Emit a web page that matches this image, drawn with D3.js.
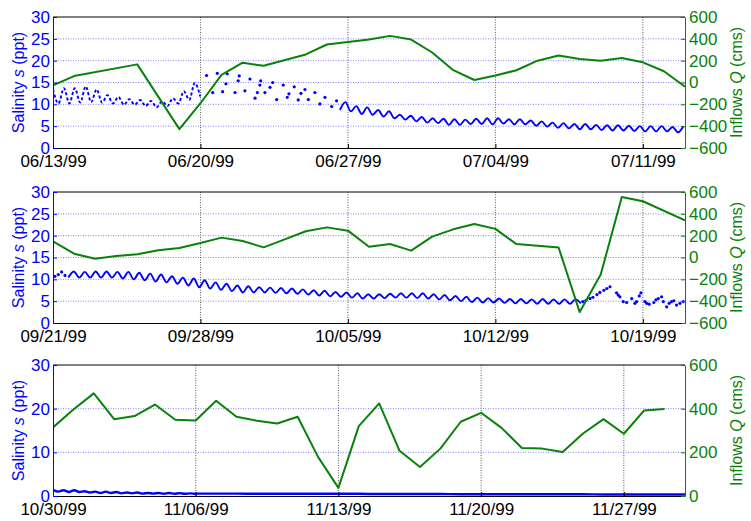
<!DOCTYPE html>
<html>
<head>
<meta charset="utf-8">
<script src="https://cdn.jsdelivr.net/npm/d3@7"></script>
<style>
  body { margin: 0; background: #fff; }
  svg text { font-family: "Liberation Sans", Arial, Helvetica, sans-serif; }
</style>
</head>
<body>
<svg id="chart" width="751" height="521"></svg>
<script>
// ---- data ----
const panelStart = ["06/13/99", "09/21/99", "10/30/99"];
const panelSpan = [30, 30, 31];   // days shown per panel
const tideStep = 0.2588;          // days between read highs/lows (half tidal cycle)

const salTicks12 = [0, 5, 10, 15, 20, 25, 30];
const salTicks3 = [0, 10, 20, 30];
const qTicks12 = [-600, -400, -200, 0, 200, 400, 600];
const qTicks3 = [0, 200, 400, 600];

// inflows Q (cms), day offset from panel start
const inflowDay1 = [0, 1, 4, 6, 7, 8, 9, 10, 12, 13, 14, 15, 16, 17, 18, 19, 20, 21, 22, 23, 24, 25, 26, 27, 28, 29, 30];
const inflowQ1 = [-26, 59, 166, -427, -190, 70, 181, 153, 257, 348, 372, 393, 427, 393, 275, 113, 23, 64, 112, 200, 248, 215, 200, 224, 185, 103, -39];
const inflowDay2 = [0, 1, 2, 3, 4, 5, 6, 7, 8, 9, 10, 11, 12, 13, 14, 15, 16, 17, 18, 19, 20, 21, 22, 24, 25, 26, 27, 28, 30];
const inflowQ2 = [148, 35, -11, 14, 29, 66, 87, 133, 182, 151, 93, 166, 240, 276, 246, 99, 124, 63, 191, 258, 307, 262, 123, 92, -500, -156, 555, 515, 340];
const inflowDay3 = [0, 1, 2, 3, 4, 5, 6, 7, 8, 9, 10, 11, 12, 13, 14, 15, 16, 17, 18, 19, 20, 21, 22, 23, 24, 25, 26, 27, 28, 29, 30];
const inflowQ3 = [314, 396, 470, 352, 366, 419, 349, 346, 436, 363, 345, 332, 363, 179, 37, 320, 424, 207, 133, 217, 340, 381, 312, 220, 217, 202, 286, 352, 285, 392, 398];

// salinity s (ppt): tidal highs/lows every tideStep days from a start day
const salEarlyStart1 = 0;
const salEarly1 = [13.4, 10.2, 13.7, 10.2, 13.7, 10.4, 14.1, 10.5, 13.4, 10.4, 12.1, 10.2, 11.7, 9.9, 11.2, 9.9,
  11.0, 9.6, 10.8, 9.3, 10.7, 9.6, 11.4, 10.2, 13.0, 11.0, 14.9, 11.8];
const salMainStart1 = 13.62;
const salMain1 = [8.7, 10.5, 8.4, 9.6, 7.8, 9.3, 7.6, 8.7, 7.2, 8.4, 6.8, 7.6, 6.5, 7.4, 6.1, 7.1, 5.8, 6.8, 5.7, 6.7,
  5.3, 6.6, 5.3, 6.5, 5.5, 6.7, 5.5, 6.8, 5.4, 6.8, 5.6, 6.6, 5.4, 6.6, 5.4, 6.3, 5.1, 6.1, 4.9, 5.8, 4.6, 5.7,
  4.5, 5.5, 4.3, 5.5, 4.3, 5.3, 4.1, 5.2, 4.0, 5.2, 4.0, 5.1, 3.9, 5.0, 3.8, 5.0, 3.8, 5.0, 3.8, 4.8, 3.6, 5.0];
// sparse salinity samples (day, value)
const salDotDay1 = [7.29, 7.58, 7.80, 8.05, 8.27, 8.21, 8.64, 8.84, 8.79, 9.11, 9.35, 9.59, 9.70, 9.86, 9.82, 10.06,
  10.30, 10.43, 10.62, 10.93, 11.12, 11.20, 11.45, 11.64, 11.77, 11.96, 12.12, 12.43, 12.67, 12.91, 13.23, 13.46];
const salDotVal1 = [16.6, 12.7, 17.1, 12.9, 17.0, 14.7, 12.7, 16.5, 15.4, 13.1, 15.8, 11.4, 12.7, 15.4, 14.4, 12.7,
  13.9, 15.0, 11.1, 14.4, 11.6, 12.4, 14.0, 11.0, 12.5, 13.4, 11.1, 12.7, 10.1, 11.6, 9.5, 10.8];

const salMainStart2 = 0.73;
const salMain2 = [10.4,
  11.8, 10.4, 11.7, 10.4, 11.8, 10.4, 11.8, 10.4, 11.7, 10.2, 11.7, 10.0, 11.5, 9.8, 11.3, 9.5, 11.1, 9.3,
  10.7, 9.0, 10.4, 8.6, 10.2, 8.2, 9.8, 7.9, 9.3, 7.6, 9.0, 7.3, 8.6, 7.0, 8.4, 7.0, 8.2, 7.0,
  8.1, 6.9, 8.0, 6.8, 7.9, 6.7, 7.7, 6.5, 7.5, 6.3, 7.4, 6.1, 7.1, 6.0, 7.0, 5.8, 6.8, 5.6, 6.6, 5.6,
  6.6, 5.7, 6.7, 5.8, 6.8, 5.8, 6.8, 5.7, 6.8, 5.6, 6.6, 5.4, 6.4, 5.2, 6.2, 5.0, 6.0, 4.8, 5.8, 4.7,
  5.7, 4.7, 5.6, 4.6, 5.5, 4.5, 5.5, 4.5, 5.4, 4.4, 5.5, 4.4, 5.4, 4.4, 5.4, 4.4, 5.4, 4.5];
const salDotDay2 = [0.09, 0.25, 0.41, 0.57,
  25.15, 25.30, 25.49, 25.63, 25.82, 25.96, 26.15, 26.29, 26.44,
  26.75, 26.83, 26.91, 27.07, 27.23, 27.47, 27.62, 27.70, 27.83, 27.91, 28.10, 28.18, 28.30, 28.52, 28.62,
  28.73, 28.89, 28.97, 29.13, 29.25, 29.36, 29.47, 29.60, 29.76, 29.92];
const salDotVal2 = [10.7, 11.1, 11.7, 10.9,
  4.9, 5.2, 5.6, 5.9, 6.5, 7.0, 7.5, 7.9, 8.3,
  6.9, 6.4, 6.0, 4.9, 4.7, 5.6, 4.5, 4.9, 6.2, 6.9, 4.9, 4.5, 4.3, 4.7, 5.3,
  5.6, 6.0, 4.9, 3.7, 4.5, 4.9, 5.1, 4.1, 4.5, 4.9];

const salMainStart3 = 0;
const salMain3 = [1.4, 1.0, 1.3, 0.9, 1.3, 0.9, 1.1, 0.8, 1.0, 0.7, 1.0, 0.7, 0.9, 0.6, 0.8, 0.6,
  0.8, 0.55, 0.7, 0.55, 0.7, 0.5, 0.7, 0.5, 0.65, 0.5, 0.6, 0.5];
// daily readings from day 7 on, once the tide signal flattens out
const salTailStart3 = 7;
const salTail3 = [0.55, 0.55, 0.55, 0.5, 0.5, 0.5, 0.5, 0.5, 0.5, 0.45, 0.45, 0.45, 0.45, 0.4, 0.4, 0.4,
  0.4, 0.4, 0.4, 0.4, 0.35, 0.35, 0.35, 0.35, 0.35];

// ---- layout ----
const svg = d3.select("#chart");
const left = 53, right = 685, panelH = 131;
const panelTop = [17, 192, 365];
const blue = "#0000ff", green = "#0a820a";
const tickFont = 17, titleFont = 16;
const parseDate = d3.timeParse("%m/%d/%y");
const fmt = d3.timeFormat("%m/%d/%y");
const dayAt = (start, d) => new Date(+start + d * 864e5);

function stepPoints(start, vals, step) {
  return vals.map((v, i) => ({d: start + i * step, s: v}));
}

// dashed: the early record is sampled coarsely, so it shows up as broken strokes
const panels = [
  {
    salTicks: salTicks12, qTicks: qTicks12, qDomain: [-600, 600],
    inflowDay: inflowDay1, inflowQ: inflowQ1,
    lines: [
      {pts: stepPoints(salEarlyStart1, salEarly1, tideStep), dash: "3,2.2"},
      {pts: stepPoints(salMainStart1, salMain1, tideStep), dash: null}
    ],
    dotDay: salDotDay1, dotVal: salDotVal1
  },
  {
    salTicks: salTicks12, qTicks: qTicks12, qDomain: [-600, 600],
    inflowDay: inflowDay2, inflowQ: inflowQ2,
    lines: [{pts: stepPoints(salMainStart2, salMain2, tideStep), dash: null}],
    dotDay: salDotDay2, dotVal: salDotVal2
  },
  {
    salTicks: salTicks3, qTicks: qTicks3, qDomain: [0, 600],
    inflowDay: inflowDay3, inflowQ: inflowQ3,
    lines: [{pts: stepPoints(salMainStart3, salMain3, tideStep).concat(stepPoints(salTailStart3, salTail3, 1)), dash: null}],
    dotDay: [], dotVal: []
  }
];

panels.forEach((p, i) => {
  const top = panelTop[i], bottom = top + panelH;
  const start = parseDate(panelStart[i]);
  const x = d3.scaleTime().domain([start, dayAt(start, panelSpan[i])]).range([left, right]);
  const yS = d3.scaleLinear().domain([0, 30]).range([bottom, top]);
  const yQ = d3.scaleLinear().domain(p.qDomain).range([bottom, top]);
  const weekTicks = d3.range(0, panelSpan[i] + 1, 7).map(d => dayAt(start, d));

  const g = svg.append("g");
  g.append("clipPath").attr("id", "clip" + i)
    .append("rect").attr("x", left).attr("y", top).attr("width", right - left).attr("height", panelH);

  // grid
  g.selectAll("line.hgrid")
    .data(p.salTicks.filter(t => t > 0 && t < 30))
    .join("line").attr("class", "hgrid")
    .attr("x1", left).attr("x2", right)
    .attr("y1", d => yS(d)).attr("y2", d => yS(d))
    .attr("stroke", "#6464ff").attr("stroke-width", 0.8).attr("stroke-dasharray", "1,1.5");
  g.selectAll("line.vgrid")
    .data(weekTicks.filter(t => x(t) > left + 1 && x(t) < right - 1))
    .join("line").attr("class", "vgrid")
    .attr("x1", d => x(d)).attr("x2", d => x(d))
    .attr("y1", top).attr("y2", bottom)
    .attr("stroke", "#333").attr("stroke-width", 0.8).attr("stroke-dasharray", "1,1.5");

  const plot = g.append("g").attr("clip-path", `url(#clip${i})`);

  // salinity
  const salLine = d3.line()
    .x(d => x(dayAt(start, d.d)))
    .y(d => yS(d.s))
    .curve(d3.curveMonotoneX);
  plot.selectAll("path.sal")
    .data(p.lines)
    .join("path").attr("class", "sal")
    .attr("d", d => salLine(d.pts))
    .attr("fill", "none").attr("stroke", blue)
    .attr("stroke-width", i === 2 ? 2.4 : 1.9)
    .attr("stroke-dasharray", d => d.dash);
  plot.selectAll("circle.sal")
    .data(p.dotDay.map((d, k) => ({d: d, s: p.dotVal[k]})))
    .join("circle").attr("class", "sal")
    .attr("cx", d => x(dayAt(start, d.d)))
    .attr("cy", d => yS(d.s))
    .attr("r", 1.6)
    .attr("fill", blue);

  // inflows
  const qLine = d3.line()
    .x((d, k) => x(dayAt(start, p.inflowDay[k])))
    .y(d => yQ(d));
  plot.append("path")
    .attr("d", qLine(p.inflowQ))
    .attr("fill", "none").attr("stroke", green).attr("stroke-width", 2)
    .attr("stroke-linejoin", "round");

  // axes
  const font = "Liberation Sans, Arial, Helvetica, sans-serif";
  g.append("line")
    .attr("x1", left).attr("x2", right).attr("y1", top).attr("y2", top)
    .attr("stroke", "#000").attr("stroke-width", 1);

  const ax = g.append("g")
    .attr("transform", `translate(0,${bottom})`)
    .call(d3.axisBottom(x).tickValues(weekTicks).tickFormat(fmt).tickSize(-4).tickSizeOuter(0).tickPadding(7));
  ax.attr("font-size", tickFont).attr("font-family", font);
  ax.select(".domain").attr("stroke", "#000");
  ax.selectAll(".tick text").attr("fill", "#000");

  const al = g.append("g")
    .attr("transform", `translate(${left},0)`)
    .call(d3.axisLeft(yS).tickValues(p.salTicks).tickSize(-4).tickSizeOuter(0).tickPadding(3));
  al.attr("font-size", tickFont).attr("font-family", font);
  al.select(".domain").attr("stroke", blue);
  al.selectAll(".tick line").attr("stroke", blue);
  al.selectAll(".tick text").attr("fill", blue);

  const ar = g.append("g")
    .attr("transform", `translate(${right},0)`)
    .call(d3.axisRight(yQ).tickValues(p.qTicks).tickSize(-4).tickSizeOuter(0).tickPadding(4));
  ar.attr("font-size", tickFont).attr("font-family", font);
  ar.select(".domain").attr("stroke", green);
  ar.selectAll(".tick line").attr("stroke", green);
  ar.selectAll(".tick text").attr("fill", green);

  // axis titles
  const midY = (top + bottom) / 2;
  const lt = g.append("text")
    .attr("transform", `translate(24,${midY}) rotate(-90)`)
    .attr("text-anchor", "middle").attr("font-size", titleFont).attr("fill", blue);
  lt.append("tspan").text("Salinity ");
  lt.append("tspan").attr("font-style", "italic").text("s");
  lt.append("tspan").text(" (ppt)");

  const rt = g.append("text")
    .attr("transform", `translate(742,${midY}) rotate(-90)`)
    .attr("text-anchor", "middle").attr("font-size", titleFont).attr("fill", green);
  rt.append("tspan").text("Inflows ");
  rt.append("tspan").attr("font-style", "italic").text("Q");
  rt.append("tspan").text(" (cms)");
});
</script>
</body>
</html>
